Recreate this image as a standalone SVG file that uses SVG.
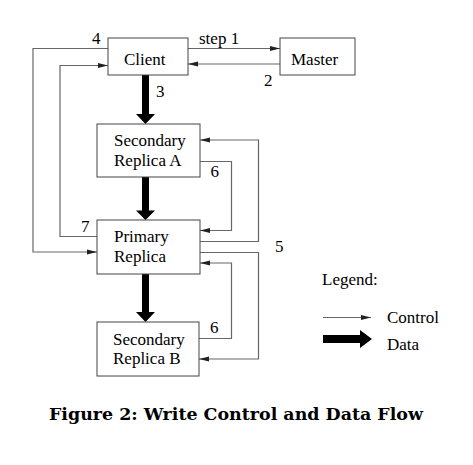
<svg xmlns="http://www.w3.org/2000/svg" width="473" height="465" viewBox="0 0 473 465">
<defs>
<marker id="ah" markerUnits="userSpaceOnUse" markerWidth="10" markerHeight="6" refX="10" refY="3" orient="auto">
<path d="M0,0.5 L10,3 L0,5.5 Z" fill="#222"/>
</marker>
<style>
.box{fill:#fff;stroke:#444;stroke-width:1}
.lbl{font-family:"Liberation Serif","Times New Roman",serif;font-size:17px;fill:#000}
.ctl{fill:none;stroke:#666;stroke-width:1.2;marker-end:url(#ah)}
.data{fill:#000}
.cap{font-family:"DejaVu Serif",serif;font-weight:bold;font-size:16px;fill:#000}
</style>
</defs>
<rect width="473" height="465" fill="#fff"/>
<g id="connectors">
<path class="ctl" d="M188,48.5 H280"/>
<path class="ctl" d="M280,64 H188"/>
<path class="ctl" d="M108,48.5 H33 V252 H97"/>
<path class="ctl" d="M97,236.5 H60 V65.5 H108"/>
<path class="ctl" d="M200,161.5 H231.5 V230.5 H200"/>
<path class="ctl" d="M200,241.5 H258.5 V140 H200"/>
<path class="ctl" d="M200,252.5 H258.5 V359 H199"/>
<path class="ctl" d="M199,338.5 H231.5 V263 H200"/>
<polygon class="data" points="142,75 149,75 149,114 155,114 145.5,124 136,114 142,114"/>
<polygon class="data" points="142,177 149,177 149,210.5 155,210.5 145.5,220 136,210.5 142,210.5"/>
<polygon class="data" points="142,274 149,274 149,312 155,312 145.5,322 136,312 142,312"/>
<text class="lbl" x="92" y="44">4</text>
<text class="lbl" x="199" y="44">step 1</text>
<text class="lbl" x="264" y="86">2</text>
<text class="lbl" x="156" y="97">3</text>
<text class="lbl" x="81" y="232">7</text>
<text class="lbl" x="210.5" y="177">6</text>
<text class="lbl" x="275" y="252">5</text>
<text class="lbl" x="210" y="333">6</text>
</g>
<g id="client">
<rect class="box" x="108" y="38" width="80" height="37"/>
<text class="lbl" x="124" y="65">Client</text>
</g>
<g id="master">
<rect class="box" x="280" y="38" width="75" height="37"/>
<text class="lbl" x="291" y="65">Master</text>
</g>
<g id="secondaryA">
<rect class="box" x="97" y="124" width="103" height="53"/>
<text class="lbl" x="114" y="146">Secondary</text>
<text class="lbl" x="114" y="166">Replica A</text>
</g>
<g id="primary">
<rect class="box" x="97" y="220" width="103" height="54"/>
<text class="lbl" x="114" y="242">Primary</text>
<text class="lbl" x="114" y="262">Replica</text>
</g>
<g id="secondaryB">
<rect class="box" x="97" y="322" width="102" height="54"/>
<text class="lbl" x="113" y="345">Secondary</text>
<text class="lbl" x="113" y="364">Replica B</text>
</g>
<g id="legend">
<text class="lbl" x="322" y="285">Legend:</text>
<path class="ctl" d="M323,317.5 H371"/>
<polygon class="data" points="323,335 360,335 360,330 372,339 360,348 360,343 323,343"/>
<text class="lbl" x="387" y="323">Control</text>
<text class="lbl" x="387" y="350">Data</text>
</g>
<text class="cap" x="49" y="420" textLength="374" lengthAdjust="spacingAndGlyphs">Figure 2: Write Control and Data Flow</text>
</svg>
